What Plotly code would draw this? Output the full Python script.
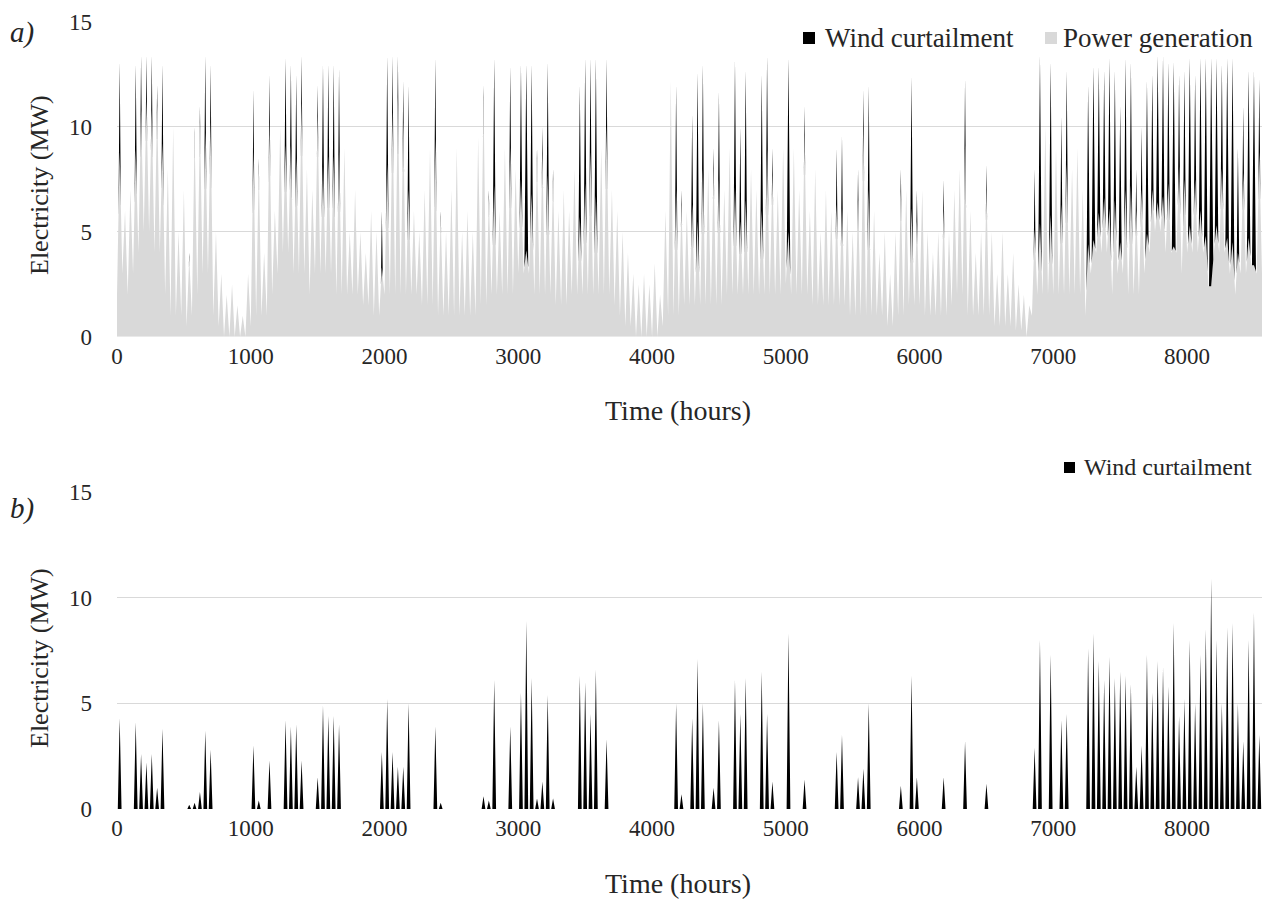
import plotly.graph_objects as go

W, H = 1266, 899
BIN = 40  # hours per bin

# Peak total wind output per 40-h bin (MW)
total_peak = [
    13.1, 6, 7, 13.0, 13.4, 13.4, 13.4, 12.0, 13.0, 8, 10, 5, 7, 4, 10, 11, 13.4, 13.0, 5, 3, 2, 2.5, 1.5, 1, 3,
    11.8, 8.5, 4, 12.5, 6, 10, 13.3, 13.0, 12.5, 13.4, 8, 7, 12, 13.0, 13.0, 13.0, 12.8, 9, 5, 7, 5, 4, 6, 5, 6,
    13.4, 13.4, 13.4, 12.2, 12.0, 6, 5, 7, 9, 13.3, 6, 5, 7, 9, 5, 6, 5, 9.5, 12, 7, 13.3, 6, 9, 12.9, 8,
    13.0, 13.0, 13.0, 9, 10, 13.1, 8, 6, 7, 6, 8, 12.0, 13.3, 13.3, 13.3, 9, 13.3, 7, 6, 5, 4, 3, 2.5, 3, 2.5,
    3.5, 2, 6, 12.2, 12.0, 7, 6, 10.6, 12.6, 13.0, 8, 9, 11.7, 7, 9, 13.2, 10, 12.7, 8, 7, 12.5, 13.4, 9, 7, 9,
    13.3, 9, 7, 11, 6, 8, 5, 7, 6, 9, 9.6, 6, 5, 8, 11.8, 12.0, 6, 4, 5, 3, 5, 8, 7, 12.4, 7,
    7, 5, 4, 5, 7.5, 5, 7, 8, 12.3, 6, 4, 5, 8.2, 5, 3, 5, 3, 4, 2.5, 2, 1.5, 8, 13.4, 10, 13.1,
    9, 10.5, 12.7, 8, 9, 7, 12, 12.9, 12.9, 12.7, 13.3, 12.7, 11, 13.3, 13.1, 8, 10, 12.2, 12.5, 13.4, 13.4, 13.1, 13.1, 12.5, 12.7,
    13.3, 12.5, 13.3, 13.3, 13.3, 13.3, 13.0, 13.3, 13.3, 9, 11, 12.7, 12.7, 12.3,
]

# Wind curtailment peak per 40-h bin (MW)
curtail_peak = [
    4.3, 0, 0, 4.1, 2.6, 2.2, 2.6, 1.0, 3.8, 0, 0, 0, 0, 0.2, 0.3, 0.8, 3.7, 2.8, 0, 0, 0, 0, 0, 0, 0,
    3.0, 0.4, 0, 2.3, 0, 0, 4.2, 3.9, 4.0, 2.3, 0, 0, 1.5, 4.9, 4.4, 4.4, 4.0, 0, 0, 0, 0, 0, 0, 0, 2.7,
    5.2, 2.7, 2.0, 2.0, 5.0, 0, 0, 0, 0, 3.9, 0.3, 0, 0, 0, 0, 0, 0, 0, 0.6, 0.4, 6.1, 0, 0, 3.9, 0,
    5.5, 8.9, 6.2, 0.5, 1.3, 5.4, 0.5, 0, 0, 0, 0, 6.3, 6.0, 4.5, 6.6, 0, 3.3, 0, 0, 0, 0, 0, 0, 0, 0,
    0, 0, 0, 0, 5.0, 0.7, 0, 4.3, 7.1, 5.0, 0, 1.0, 4.2, 0, 0, 6.1, 4.5, 6.2, 0, 0, 6.5, 4.5, 1.3, 0, 0,
    8.3, 0, 0, 1.4, 0, 0, 0, 0, 0, 2.7, 3.5, 0, 0, 1.5, 1.9, 5.0, 0, 0, 0, 0, 0, 1.1, 0, 6.3, 1.5,
    0, 0, 0, 0, 1.5, 0, 0, 0, 3.2, 0, 0, 0, 1.2, 0, 0, 0, 0, 0, 0, 0, 0, 2.9, 8.0, 0, 7.3,
    0, 4.2, 4.5, 0, 0, 0, 7.6, 8.3, 7.0, 6.1, 7.2, 6.2, 6.5, 6.3, 5.9, 2, 3, 7.3, 5.5, 7.0, 6.7, 5.8, 8.8, 4.4, 5.2,
    8.0, 5.0, 7.3, 8.5, 10.9, 8.0, 5.0, 8.6, 8.8, 5.0, 3.2, 8.0, 9.3, 3.5,
]

# Trough of the total output at the start of each bin (MW)
trough = [
    2, 3, 2, 3, 4, 5, 5, 4, 4, 2, 1, 1, 1, 0.5, 1, 2, 3, 3, 1, 0.5, 0, 0, 0, 0, 0,
    0.5, 1, 1, 1, 2, 3, 4, 4, 3, 3, 3, 2, 3, 3, 3, 3, 2, 2, 2, 2, 2, 1.5, 1.5, 1, 1,
    2, 2, 2, 2, 2, 2, 2, 1.5, 1.5, 1.5, 1, 1, 1, 1, 1, 1, 1, 1, 1.5, 1.5, 2, 2, 2, 2, 2,
    3, 3, 3, 2, 2, 2, 2, 1.5, 1.5, 1.5, 2, 2, 2, 2, 2, 2, 2, 2, 1.5, 1, 0.5, 0.5, 0, 0, 0,
    0, 0, 0.5, 1, 1, 1, 1.5, 1.5, 1.5, 1.5, 1.5, 1.5, 1.5, 1.5, 2, 2, 2, 2, 2, 2, 2, 2, 2, 2, 2,
    2.5, 2, 2, 2, 2, 1.5, 1.5, 1.5, 1.5, 1.5, 1.5, 1.5, 1, 1, 1, 1, 1, 1, 1, 0.5, 0.5, 1, 1, 1.5, 1.5,
    1.5, 1, 1, 1, 1, 1, 1.5, 2, 2, 1, 1, 1, 1, 1, 0.5, 0.5, 0.5, 0.5, 0.3, 0.3, 0, 1, 2, 2, 2,
    2, 2, 2, 2, 2, 2, 1, 3, 4, 4, 4, 2, 3, 3, 2, 2, 2, 3, 4, 5, 5, 4, 4, 4, 3,
    4, 4, 4, 4, 3, 4, 4, 4, 3, 2, 3, 3, 4, 3,
]

x_ticks = [0, 1000, 2000, 3000, 4000, 5000, 6000, 7000, 8000]
y_ticks = [0, 5, 10, 15]

# ---- build series on the hourly axis from the bin values ----
HALF = BIN / 2
SPIKE_B = 14    # half-width (h) of the base of a curtailment spike in panel b
nb = len(total_peak)
gen_peak = [t - c for t, c in zip(total_peak, curtail_peak)]
gen_lo = [min(lo, g) for lo, g in zip(trough, gen_peak)]

# generation (grey) polyline: trough at bin start, peak at bin middle
gx, gy = [], []
for k in range(nb):
    gx += [k * BIN, k * BIN + HALF]
    gy += [gen_lo[k], gen_peak[k]]
gx.append(nb * BIN); gy.append(trough[-1])

# curtailment (black) needles on top of the generation peaks
nx, ny = [], []
for k in range(nb):
    c = curtail_peak[k]
    if c <= 0:
        continue
    w = min(16.0, 4.0 + 1.2 * c)   # needle half-width grows with curtailment
    f = w / HALF
    m, g, t = k * BIN + HALF, gen_peak[k], total_peak[k]
    right_lo = gen_lo[k + 1] if k + 1 < nb else trough[-1]
    gl = g + (gen_lo[k] - g) * f
    gr = g + (right_lo - g) * f
    nx += [m - w, m, m + w, m, m - w, None]
    ny += [gl, t, gr, g, gl, None]

# panel b curtailment spikes
cx, cy = [0], [0]
for k in range(nb):
    m = k * BIN + HALF
    cx += [m - SPIKE_B, m, m + SPIKE_B]
    cy += [0, curtail_peak[k], 0]
cx.append(nb * BIN); cy.append(0)

FONT = "Liberation Serif"
GREY = "#d9d9d9"
BLACK = "#000000"
TXT = "#262626"

fig = go.Figure()
fig.add_trace(go.Scatter(x=gx, y=gy, mode="lines", line=dict(width=0, color=GREY),
                         fill="tozeroy", fillcolor=GREY, showlegend=False, xaxis="x", yaxis="y"))
fig.add_trace(go.Scatter(x=nx, y=ny, mode="lines", line=dict(width=0, color=BLACK),
                         fill="toself", fillcolor=BLACK, showlegend=False, xaxis="x", yaxis="y"))
fig.add_trace(go.Scatter(x=cx, y=cy, mode="lines", line=dict(width=0, color=BLACK),
                         fill="tozeroy", fillcolor=BLACK, showlegend=False, xaxis="x2", yaxis="y2"))

def px(x):
    return x / W

def py(y):
    return 1 - y / H

xdom = [px(117), px(1262)]
ax_common = dict(range=[0, 8560], tickvals=x_ticks, showgrid=False, zeroline=False,
                 showline=False, ticks="", tickfont=dict(family=FONT, size=23, color=TXT),
                 automargin=False, ticklabelstandoff=3)
ay_common = dict(range=[0, 15], tickvals=y_ticks, showgrid=True, gridcolor=GREY, gridwidth=1,
                 zeroline=False, showline=False, ticks="",
                 tickfont=dict(family=FONT, size=23, color=TXT), automargin=False,
                 ticklabelstandoff=24)

fig.update_layout(
    width=W, height=H, margin=dict(l=0, r=0, t=0, b=0),
    paper_bgcolor="white", plot_bgcolor="white", showlegend=False,
    xaxis=dict(domain=xdom, anchor="y", **ax_common),
    yaxis=dict(domain=[py(336.7), py(21.7)], anchor="x", **ay_common),
    xaxis2=dict(domain=xdom, anchor="y2", **ax_common),
    yaxis2=dict(domain=[py(809), py(492)], anchor="x2", **ay_common),
)

ann = []
def text(s, x, y, size=22, xanchor="left", angle=0, italic=False):
    ann.append(dict(text=f"<i>{s}</i>" if italic else s, x=px(x), y=py(y), xref="paper", yref="paper",
                    xanchor=xanchor, yanchor="middle", showarrow=False, textangle=angle,
                    font=dict(family=FONT, size=size, color=TXT)))

text("a)", 8, 32, size=29, italic=True)
text("b)", 8, 508, size=29, italic=True)
text("Electricity (MW)", 39, 185, size=26, xanchor="center", angle=-90)
text("Electricity (MW)", 39, 658, size=26, xanchor="center", angle=-90)
text("Time (hours)", 678, 410, size=28, xanchor="center")
text("Time (hours)", 678, 883, size=28, xanchor="center")
text("Wind curtailment", 823, 38, size=27)
text("Power generation", 1061, 38, size=27)
text("Wind curtailment", 1082, 467, size=24)

shapes = []
def square(x0, y0, color, s=12):
    shapes.append(dict(type="rect", xref="paper", yref="paper", x0=px(x0), x1=px(x0 + s),
                       y0=py(y0 + s), y1=py(y0), fillcolor=color, line=dict(width=0)))

square(803, 32, BLACK)
square(1045, 32, GREY)
square(1064, 462, BLACK, 11)

fig.update_layout(annotations=ann, shapes=shapes)
fig.write_html("out.html", config={"displayModeBar": False},
               post_script="document.body.style.margin='0';document.body.style.overflow='hidden';")
